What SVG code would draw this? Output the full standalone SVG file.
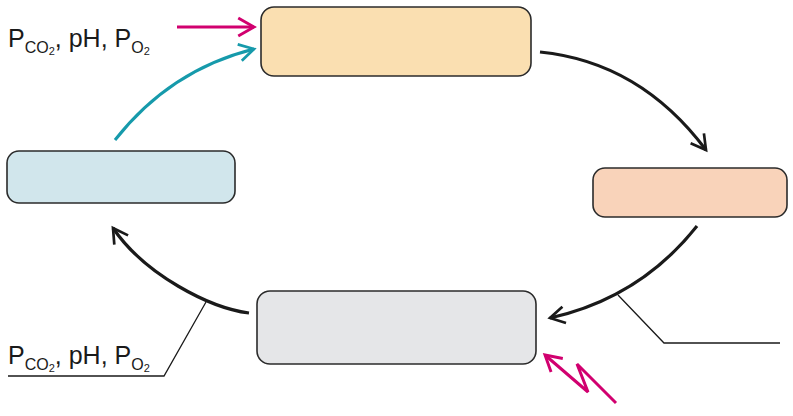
<svg xmlns="http://www.w3.org/2000/svg" width="793" height="416" viewBox="0 0 793 416">
<style>
.box{stroke:#2b2b2b;stroke-width:1.6}
.lbl{font-family:"Liberation Sans",Arial,sans-serif;font-size:25px;fill:#1a1a1a}
.sub{font-size:16px}
.sub2{font-size:11px}
.blk{fill:none;stroke:#1a1a1a;stroke-width:3.2}
.lead{fill:none;stroke:#1a1a1a;stroke-width:1.3}
.pink{fill:none;stroke:#d1006f;stroke-width:3}
.teal{fill:none;stroke:#169aab;stroke-width:3}
</style>
<defs>
<marker id="hb" viewBox="0 0 10 10" refX="8" refY="5" markerWidth="6.5" markerHeight="6.5" orient="auto" markerUnits="strokeWidth">
<path d="M1,1 L8,5 L1,9" fill="none" stroke="#1a1a1a" stroke-width="1.3"/>
</marker>
<marker id="hp" viewBox="0 0 10 10" refX="8" refY="5" markerWidth="7.5" markerHeight="7.5" orient="auto" markerUnits="strokeWidth">
<path d="M1,1 L8,5 L1,9" fill="none" stroke="#d1006f" stroke-width="1.3"/>
</marker>
<marker id="ht" viewBox="0 0 10 10" refX="8" refY="5" markerWidth="7" markerHeight="7" orient="auto" markerUnits="strokeWidth">
<path d="M1,1 L8,5 L1,9" fill="none" stroke="#169aab" stroke-width="1.3"/>
</marker>
</defs>
<g id="connectors">
<path class="blk" d="M540,52 Q640,62 706,150" marker-end="url(#hb)"/>
<path class="blk" d="M697,226 Q640,298 550,318" marker-end="url(#hb)"/>
<path class="blk" d="M249,313 C210,308 145,275 113,228" marker-end="url(#hb)"/>
<path class="teal" d="M115,140 Q170,70 254,49" marker-end="url(#ht)"/>
<path class="pink" d="M177,27 L254,27" marker-end="url(#hp)"/>
<path class="pink" d="M616,403 L577,364 L588,392 L545,355" marker-end="url(#hp)"/>
<path class="lead" d="M618,295 L664,343 L780,343"/>
<path class="lead" d="M206,302 L164,376 L8,376"/>
</g>
<g id="node-top"><rect class="box" x="261" y="7" width="270" height="69" rx="13" fill="#fadfb1"/></g>
<g id="node-right"><rect class="box" x="593" y="168" width="194" height="49" rx="12" fill="#f9d3ba"/></g>
<g id="node-bottom"><rect class="box" x="257" y="291" width="279" height="73" rx="13" fill="#e5e6e8"/></g>
<g id="node-left"><rect class="box" x="7" y="151" width="228" height="52" rx="12" fill="#d1e6ec"/></g>
<g id="label-top"><text class="lbl" x="8" y="47">P<tspan class="sub" dy="5.5">CO</tspan><tspan class="sub2" dy="2">2</tspan><tspan dy="-7.5">, pH, P</tspan><tspan class="sub" dy="5.5">O</tspan><tspan class="sub2" dy="2">2</tspan></text></g>
<g id="label-bottom"><text class="lbl" x="8" y="364">P<tspan class="sub" dy="5.5">CO</tspan><tspan class="sub2" dy="2">2</tspan><tspan dy="-7.5">, pH, P</tspan><tspan class="sub" dy="5.5">O</tspan><tspan class="sub2" dy="2">2</tspan></text></g>
</svg>
